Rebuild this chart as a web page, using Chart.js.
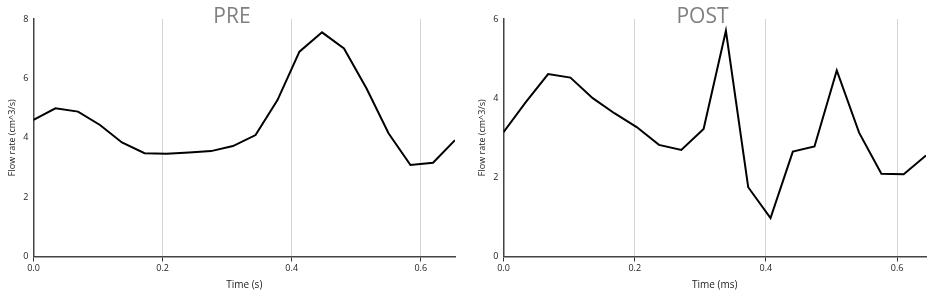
<!DOCTYPE html>
<html>
<head>
<meta charset="utf-8">
<script src="https://cdn.jsdelivr.net/npm/chart.js@4/dist/chart.umd.min.js"></script>
<style>
    body { margin: 0; background: #fff; }
    .panel { position: absolute; top: 0; height: 291px; }
    #prePanel { left: 0; width: 470px; }
    #postPanel { left: 470px; width: 471px; }
</style>
</head>
<body>
<div class="panel" id="prePanel"><canvas id="preChart"></canvas></div>
<div class="panel" id="postPanel"><canvas id="postChart"></canvas></div>
<script>
// Flow rate over one cycle
const preTime = [0, 0.034, 0.069, 0.103, 0.137, 0.172, 0.206, 0.241, 0.275, 0.309,
                 0.344, 0.378, 0.412, 0.447, 0.481, 0.516, 0.550, 0.584, 0.619, 0.653];
const preFlow = [4.60, 4.99, 4.88, 4.43, 3.84, 3.48, 3.46, 3.50, 3.55, 3.72,
                 4.09, 5.27, 6.90, 7.55, 7.01, 5.66, 4.15, 3.08, 3.16, 3.92];

const postTime = [0, 0.034, 0.068, 0.102, 0.136, 0.169, 0.203, 0.237, 0.271, 0.305,
                  0.339, 0.373, 0.407, 0.441, 0.474, 0.508, 0.542, 0.576, 0.610, 0.644];
const postFlow = [3.14, 3.90, 4.61, 4.52, 4.00, 3.62, 3.27, 2.82, 2.69, 3.22,
                  5.70, 1.75, 0.97, 2.65, 2.78, 4.70, 3.13, 2.09, 2.08, 2.55];

const xTicks = [0, 0.2, 0.4, 0.6];
const preYTicks = [0, 2, 4, 6, 8];
const postYTicks = [0, 2, 4, 6];

const FONT = '"Open Sans", "Noto Sans", sans-serif';

// title sits over the top of the plot, so draw it by hand
const overlayTitle = {
    id: 'overlayTitle',
    afterDraw(chart, args, opts) {
        const ctx = chart.ctx;
        ctx.save();
        ctx.font = '21px ' + FONT;
        ctx.fillStyle = '#808080';
        ctx.textAlign = 'center';
        ctx.textBaseline = 'middle';
        ctx.fillText(opts.text, chart.width / 2 + (opts.dx || 0), 17);
        ctx.restore();
    }
};

function makeChart(canvasId, title, xLabel, times, flows, yTicks) {
    const ctx = document.getElementById(canvasId).getContext('2d');
    return new Chart(ctx, {
        type: 'line',
        data: {
            datasets: [{
                data: times.map((t, i) => ({ x: t, y: flows[i] })),
                borderColor: '#000',
                borderWidth: 2,
                pointRadius: 0,
                tension: 0,
                fill: false
            }]
        },
        options: {
            responsive: true,
            maintainAspectRatio: false,
            animation: false,
            layout: { padding: { top: 19, right: 15, left: 0, bottom: 0 } },
            plugins: {
                legend: { display: false },
                tooltip: { enabled: false },
                overlayTitle: { text: title, dx: -3 }
            },
            scales: {
                x: {
                    type: 'linear',
                    min: 0,
                    max: times[times.length - 1],
                    afterFit: s => { s.height = 34.5; },
                    afterBuildTicks: s => {
                        s.ticks = xTicks.map(v => ({ value: v }));
                    },
                    ticks: {
                        color: '#222',
                        font: { family: FONT, size: 9 },
                        padding: 2,
                        maxRotation: 0,
                        callback: v => Number(v).toFixed(1)
                    },
                    grid: {
                        color: '#d4d4d4',
                        lineWidth: 1,
                        tickColor: '#333',
                        tickLength: 5
                    },
                    border: { color: '#444', width: 1.5 },
                    title: {
                        display: true,
                        text: xLabel,
                        color: '#222',
                        font: { family: FONT, size: 10 },
                        padding: { top: 0, bottom: 0 }
                    }
                },
                y: {
                    min: yTicks[0],
                    max: yTicks[yTicks.length - 1],
                    afterFit: s => { s.width = 33.5; },
                    afterBuildTicks: s => {
                        s.ticks = yTicks.map(v => ({ value: v }));
                    },
                    ticks: {
                        color: '#222',
                        font: { family: FONT, size: 9 },
                        padding: 5
                    },
                    grid: { display: false, drawTicks: false },
                    border: { color: '#444', width: 1.5 },
                    title: {
                        display: true,
                        text: 'Flow rate (cm^3/s)',
                        color: '#222',
                        font: { family: FONT, size: 9 },
                        padding: { top: 7, bottom: 0 }
                    }
                }
            }
        },
        plugins: [overlayTitle]
    });
}

makeChart('preChart', 'PRE', 'Time (s)', preTime, preFlow, preYTicks);
makeChart('postChart', 'POST', 'Time (ms)', postTime, postFlow, postYTicks);
</script>
</body>
</html>
